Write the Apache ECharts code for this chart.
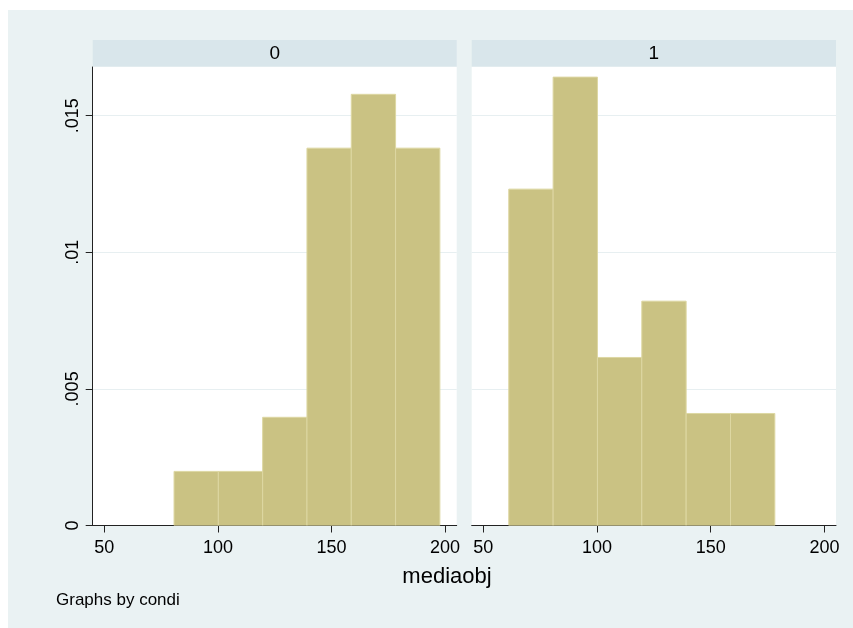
<!DOCTYPE html>
<html>
<head>
<meta charset="utf-8">
<script src="https://cdn.jsdelivr.net/npm/echarts@6/dist/echarts.min.js"></script>
<style>
html,body{margin:0;padding:0;background:#eaf2f3;}
#c{width:853px;height:628px;}
</style>
</head>
<body>
<div id="c"></div>
<script>
// Histogram bins (mediaobj), shared by both panels
const binEdges = [61.2, 80.7, 100.2, 119.7, 139.2, 158.7, 178.2, 197.7];
// Density per bin, panel condi = 0
const density0 = [0, 0.00198, 0.00198, 0.00396, 0.01381, 0.01578, 0.01381];
// Density per bin, panel condi = 1
const density1 = [0.01231, 0.01641, 0.00615, 0.00821, 0.00410, 0.00410, 0];
const panelLabels = ['0', '1'];
const xTicks = [50, 100, 150, 200];
const yTicks = [0, 0.005, 0.01, 0.015];
const yTickLabels = ['0', '.005', '.01', '.015'];
const xTitle = 'mediaobj';
const noteText = 'Graphs by condi';

const FONT = '"Liberation Sans", Arial, sans-serif';
const BAR_FILL = '#cac283';
const BAR_EDGE = '#ddd7a2';

function toData(dens) {
  const out = [];
  for (let i = 0; i < dens.length; i++) {
    if (dens[i] > 0) out.push([binEdges[i], binEdges[i + 1], dens[i]]);
  }
  return out;
}

function renderBin(params, api) {
  const p0 = api.coord([api.value(0), api.value(2)]);
  const p1 = api.coord([api.value(1), 0]);
  return {
    type: 'rect',
    shape: { x: p0[0], y: p0[1], width: p1[0] - p0[0], height: p1[1] - p0[1] },
    style: { fill: BAR_FILL, stroke: BAR_EDGE, lineWidth: 1 }
  };
}

const grids = [
  { left: 92.7, top: 67, width: 364, height: 458.5 },
  { left: 471.7, top: 67, width: 364.3, height: 458.5 }
];

const xAxes = grids.map((g, i) => ({
  type: 'value', gridIndex: i, min: 44.9, max: 205.1,
  axisLine: { show: true, onZero: false, lineStyle: { color: '#222', width: 1 } },
  axisTick: { show: true, length: 7, customValues: xTicks, lineStyle: { color: '#222' } },
  axisLabel: { show: true, customValues: xTicks, margin: 14, fontSize: 18, color: '#000', fontFamily: FONT },
  splitLine: { show: false }
}));

const yAxes = grids.map((g, i) => ({
  type: 'value', gridIndex: i, min: 0, max: 0.01678,
  axisLine: { show: i === 0, lineStyle: { color: '#222', width: 1 } },
  axisTick: { show: i === 0, length: 7, customValues: yTicks, lineStyle: { color: '#222' } },
  axisLabel: {
    show: i === 0, customValues: yTicks, rotate: 90, margin: 11, fontSize: 18, color: '#000', fontFamily: FONT,
    formatter: function (v) {
      const k = yTicks.findIndex(t => Math.abs(t - v) < 1e-9);
      return k >= 0 ? yTickLabels[k] : '';
    }
  },
  splitLine: { show: true, lineStyle: { color: '#e7eff1', width: 1 } }
}));

const graphics = [
  { type: 'rect', z: -10, shape: { x: 0, y: 0, width: 853, height: 10 }, style: { fill: '#ffffff' } },
  { type: 'rect', z: -10, shape: { x: 0, y: 0, width: 8, height: 628 }, style: { fill: '#ffffff' } }
];
grids.forEach((g, i) => {
  graphics.push({ type: 'rect', z: -5, shape: { x: g.left, y: g.top, width: g.width, height: g.height }, style: { fill: '#ffffff' } });
  graphics.push({ type: 'rect', z: -5, shape: { x: g.left, y: 40, width: g.width, height: 26.5 }, style: { fill: '#d9e6eb' } });
  graphics.push({ type: 'text', z: 5, x: g.left + g.width / 2, y: 53.5,
    style: { text: panelLabels[i], fontSize: 19, fontFamily: FONT, fill: '#000', align: 'center', verticalAlign: 'middle' } });
});
graphics.push({ type: 'text', x: 447, y: 577,
  style: { text: xTitle, fontSize: 22, fontFamily: FONT, fill: '#000', align: 'center', verticalAlign: 'middle' } });
graphics.push({ type: 'text', x: 56, y: 600,
  style: { text: noteText, fontSize: 17, fontFamily: FONT, fill: '#000', align: 'left', verticalAlign: 'middle' } });

const chart = echarts.init(document.getElementById('c'), null, { renderer: 'canvas' });
chart.setOption({
  animation: false,
  backgroundColor: '#eaf2f3',
  graphic: { elements: graphics },
  grid: grids.map(g => Object.assign({ containLabel: false }, g)),
  xAxis: xAxes,
  yAxis: yAxes,
  series: [
    { type: 'custom', xAxisIndex: 0, yAxisIndex: 0, renderItem: renderBin, data: toData(density0), encode: { x: [0, 1], y: 2 }, clip: true },
    { type: 'custom', xAxisIndex: 1, yAxisIndex: 1, renderItem: renderBin, data: toData(density1), encode: { x: [0, 1], y: 2 }, clip: true }
  ]
});
</script>
</body>
</html>
